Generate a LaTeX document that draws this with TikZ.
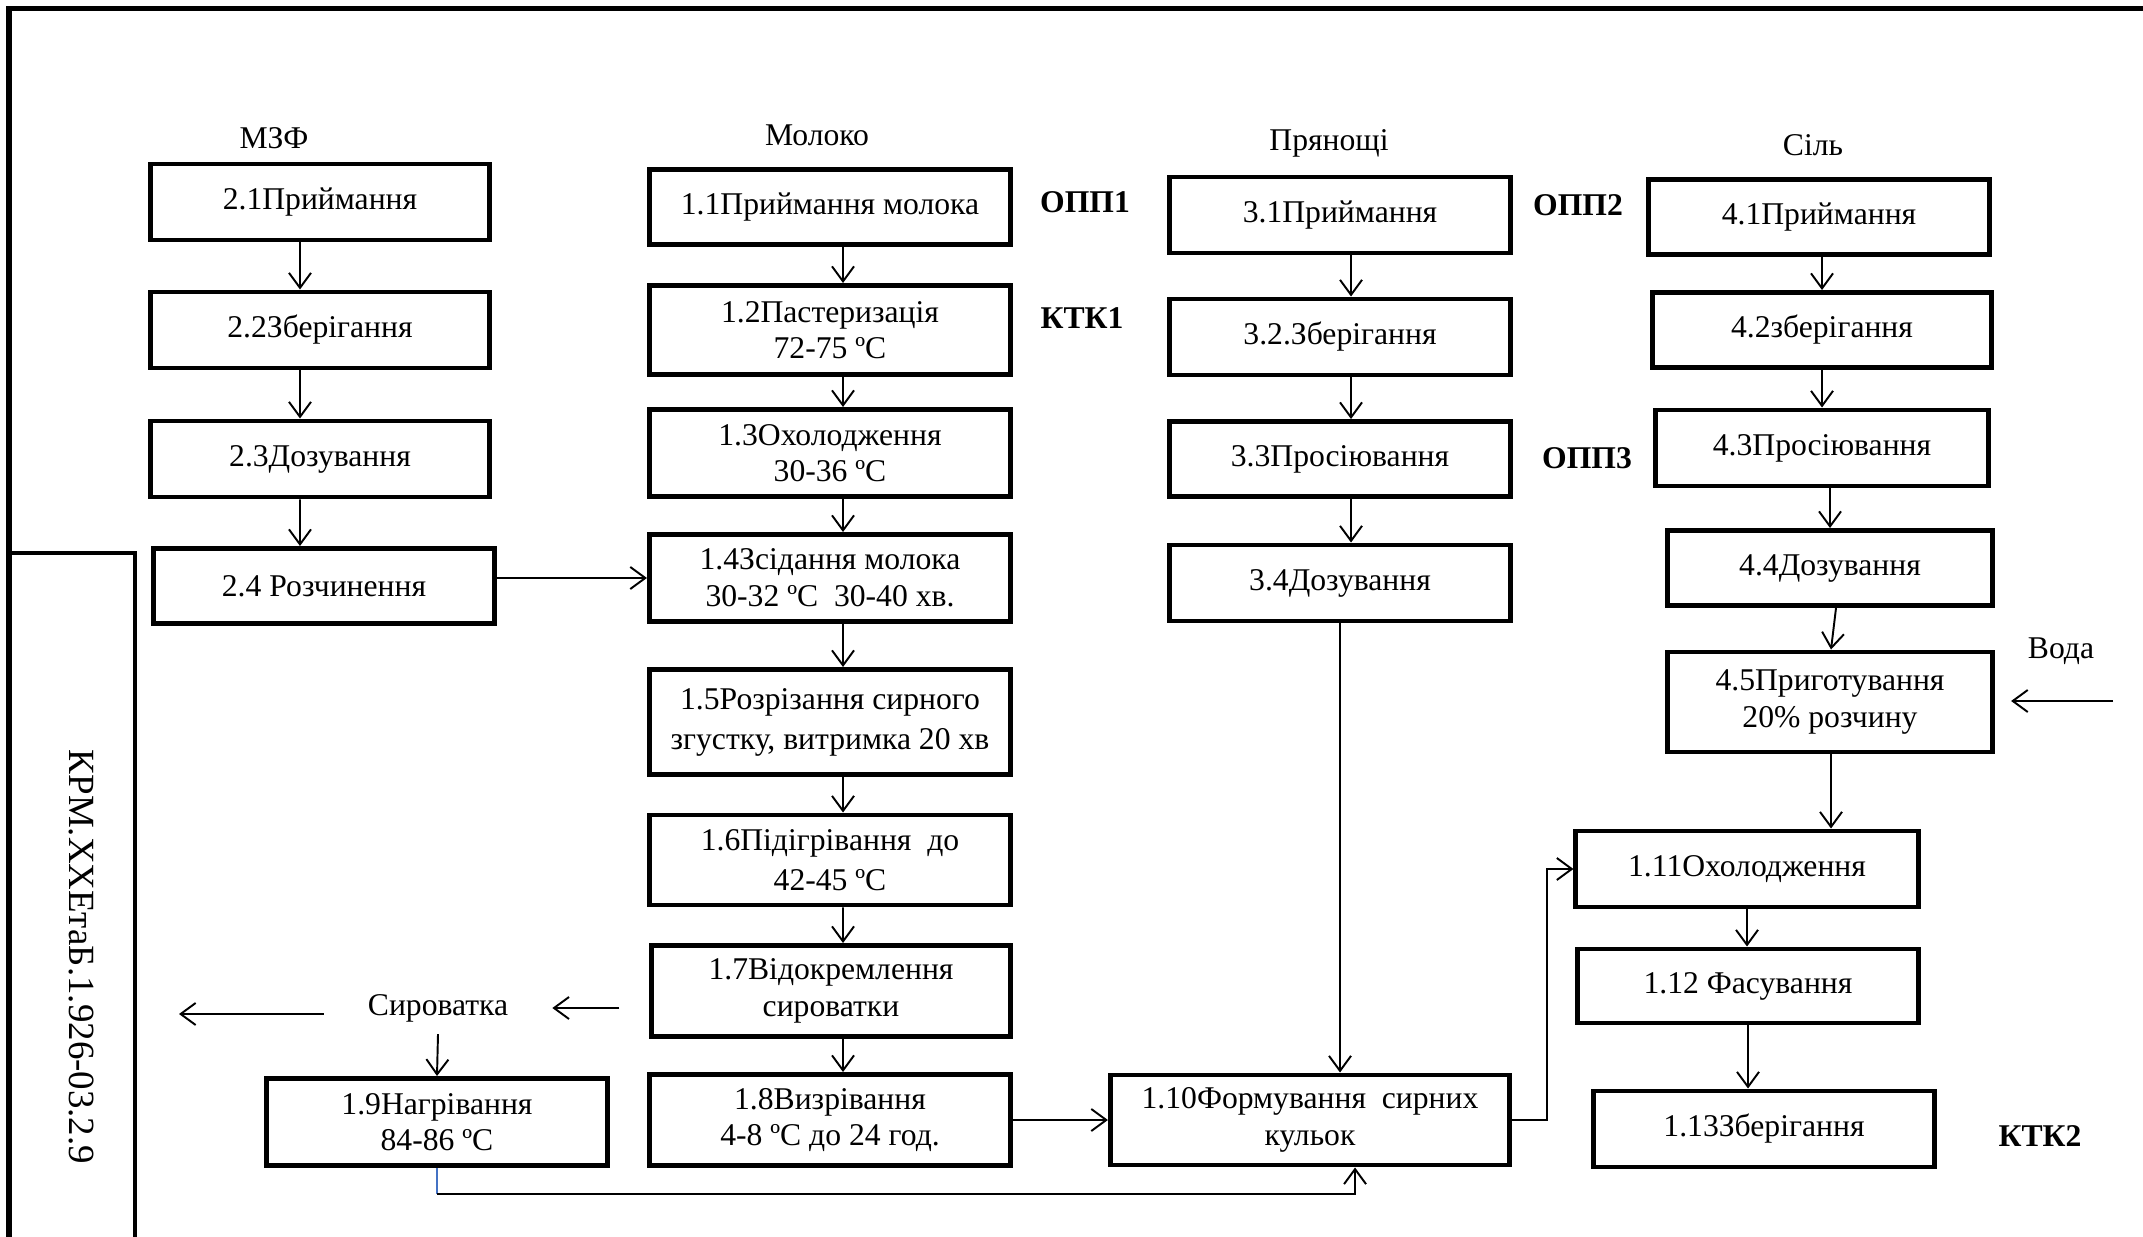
\documentclass[tikz,border=0pt]{standalone}
\usepackage{fontspec}
\setmainfont{Liberation Serif}
\usetikzlibrary{arrows.meta}

\definecolor{link}{RGB}{68,114,196}

\begin{document}
\begin{tikzpicture}[x=0.01cm,y=-0.01cm,
  stage/.style={draw, line width=1.4pt, minimum width=3.4cm,
                minimum height=0.76cm, inner sep=2pt, align=center},
  flow/.style={line width=0.55pt,
               -{Straight Barb[length=0.15cm,width=0.22cm]}},
  tag/.style={inner sep=1pt},
  ctrl/.style={inner sep=1pt, font=\bfseries}]
\useasboundingbox (0,0) rectangle (2143,1237);
\fontsize{9}{10.4}\selectfont
% frame and stamp
\draw [line width=1.5pt] (9,1240) -- (9,8.5) -- (2150,8.5);
\draw [line width=1.4pt] (9,553) -- (135,553) -- (135,1240);
\node [rotate=-90, font=\fontsize{10.5}{12}\selectfont] (code) at (82,957)
  {КРМ.ХХЕтаБ.1.926-03.2.9};
% column heads
\node [tag] (mzf)   at (274,138)  {МЗФ};
\node [tag] (milk)  at (817,135)  {Молоко};
\node [tag] (spice) at (1329,143) {Прянощі};
\node [tag] (salt)  at (1813,145) {Сіль};
\node [ctrl] (opp1) at (1085,202) {ОПП1};
\node [ctrl] (ktk1) at (1082,318) {КТК1};
\node [ctrl] (opp2) at (1578,205) {ОПП2};
\node [ctrl] (opp3) at (1587,458) {ОПП3};
\node [ctrl] (ktk2) at (2040,1136) {КТК2};
% МЗФ
\node [stage, minimum width=3.39cm] (b21) at (320,202) {2.1Приймання};
\node [stage, minimum width=3.39cm] (b22) at (320,330) {2.2Зберігання};
\node [stage, minimum width=3.39cm] (b23) at (320,459) {2.3Дозування};
\node [stage, minimum width=3.41cm, minimum height=0.75cm] (b24) at (324,586)
  {2.4 Розчинення};
% milk
\node [stage, minimum width=3.61cm, minimum height=0.75cm] (b11) at (830,207)
  {1.1Приймання молока};
\node [stage, minimum width=3.61cm, minimum height=0.89cm] (b12) at (830,330)
  {1.2Пастеризація\\72-75 ºC};
\node [stage, minimum width=3.61cm, minimum height=0.87cm] (b13) at (830,453)
  {1.3Охолодження\\30-36 ºC};
\node [stage, minimum width=3.61cm, minimum height=0.87cm] (b14) at (830,578)
  {1.4Зсідання молока\\30-32 ºC\ \ 30-40 хв.};
\node [stage, minimum width=3.61cm, minimum height=1.05cm] (b15) at (830,722)
  {1.5Розрізання сирного\\[1pt]згустку, витримка 20 хв};
\node [stage, minimum width=3.61cm, minimum height=0.9cm] (b16) at (830,860)
  {1.6Підігрівання\ \ до\\[1pt]42-45 ºC};
\node [stage, minimum width=3.58cm, minimum height=0.91cm] (b17) at (831,991)
  {1.7Відокремлення\\сироватки};
\node [stage, minimum width=3.61cm, minimum height=0.91cm] (b18) at (830,1120)
  {1.8Визрівання\\4-8 ºC до 24 год.};
\node [stage, minimum width=3.4cm, minimum height=0.87cm] (b19) at (437,1122)
  {1.9Нагрівання\\84-86 ºC};
\node [tag] (whey) at (438,1008) {Сироватка};
\coordinate (wout) at (179,1014);
% spices
\node [stage] (b31) at (1340,215) {3.1Приймання};
\node [stage] (b32) at (1340,337) {3.2.Зберігання};
\node [stage, minimum height=0.75cm] (b33) at (1340,459) {3.3Просіювання};
\node [stage] (b34) at (1340,583) {3.4Дозування};
% salt
\node [stage, minimum height=0.75cm] (b41) at (1819,217) {4.1Приймання};
\node [stage, minimum width=3.39cm, minimum height=0.75cm] (b42) at (1822,330)
  {4.2зберігання};
\node [stage, minimum width=3.33cm] (b43) at (1822,448) {4.3Просіювання};
\node [stage, minimum width=3.25cm, minimum height=0.75cm] (b44) at (1830,568)
  {4.4Дозування};
\node [stage, minimum width=3.25cm, minimum height=1cm] (b45) at (1830,702)
  {4.5Приготування\\20\% розчину};
\node [tag] (water) at (2061,651) {Вода};
\coordinate (win) at (2113,701);
% finish
\node [stage, minimum width=3.99cm, minimum height=0.9cm] (b110) at (1310,1120)
  {1.10Формування\ \ сирних\\кульок};
\node [stage, minimum width=3.42cm] (b111) at (1747,869) {1.11Охолодження};
\node [stage, minimum height=0.74cm] (b112) at (1748,986) {1.12 Фасування};
\node [stage] (b113) at (1764,1129) {1.13Зберігання};
\coordinate (low) at (0,1194);
% connectors
\draw [flow] ([xshift=-0.2cm]b21.south) -- ([xshift=-0.2cm]b22.north);
\draw [flow] ([xshift=-0.2cm]b22.south) -- ([xshift=-0.2cm]b23.north);
\draw [flow] ([xshift=-0.2cm]b23.south) -- ([xshift=-0.24cm]b24.north);
\draw [flow] (b14.west -| b24.east) -- (b14.west);
\draw [flow] ([xshift=0.13cm]b11.south) -- ([xshift=0.13cm]b12.north);
\draw [flow] ([xshift=0.13cm]b12.south) -- ([xshift=0.13cm]b13.north);
\draw [flow] ([xshift=0.13cm]b13.south) -- ([xshift=0.13cm]b14.north);
\draw [flow] ([xshift=0.13cm]b14.south) -- ([xshift=0.13cm]b15.north);
\draw [flow] ([xshift=0.13cm]b15.south) -- ([xshift=0.13cm]b16.north);
\draw [flow] ([xshift=0.13cm]b16.south) -- ([xshift=0.12cm]b17.north);
\draw [flow] ([xshift=0.12cm]b17.south) -- ([xshift=0.13cm]b18.north);
\draw [flow] ([xshift=-0.3cm]b17.west |- whey.east) -- ([xshift=0.4cm]whey.east);
\draw [flow] ([xshift=-0.4cm]whey.west |- wout) -- (wout);
\draw [flow] ([yshift=-0.08cm]whey.south) -- (b19.north);
\draw [line width=0.55pt, link] (b19.south) -- (b19.south |- low);
\draw [flow] (b19.south |- low) -- ([xshift=0.45cm]b110.south |- low)
             -- ([xshift=0.45cm]b110.south);
\draw [flow] (b18.east) -- (b110.west);
\draw [flow] ([xshift=0.11cm]b31.south) -- ([xshift=0.11cm]b32.north);
\draw [flow] ([xshift=0.11cm]b32.south) -- ([xshift=0.11cm]b33.north);
\draw [flow] ([xshift=0.11cm]b33.south) -- ([xshift=0.11cm]b34.north);
\draw [flow] (b34.south) -- (b34.south |- b110.north);
\draw [flow] (b42.north |- b41.south) -- (b42.north);
\draw [flow] (b42.south) -- (b42.south |- b43.north);
\draw [flow] (b44.north |- b43.south) -- (b44.north);
\draw [flow] ([xshift=0.06cm]b44.south) -- ([xshift=0.01cm]b45.north);
\draw [flow] (win) -- ([xshift=0.16cm]b45.east |- win);
\draw [flow] ([xshift=0.01cm]b45.south) -- ([xshift=0.01cm]b45.south |- b111.north);
\draw [flow] (b110.east) -- ++(0.35cm,0) |- (b111.west);
\draw [flow] (b111.south) -- (b111.south |- b112.north);
\draw [flow] (b112.south) -- (b112.south |- b113.north);
\end{tikzpicture}
\end{document}
